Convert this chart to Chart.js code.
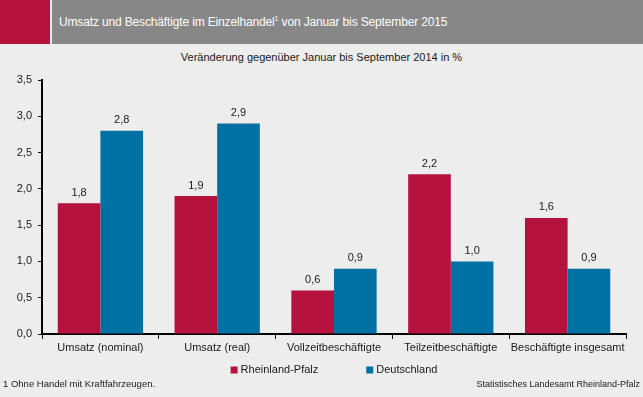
<!DOCTYPE html>
<html lang="de">
<head>
    <meta charset="UTF-8">
    <title>Umsatz und Beschäftigte im Einzelhandel</title>
    <style>
        body {
            margin: 0;
            width: 643px;
            height: 397px;
            overflow: hidden;
            position: relative;
            background-color: #ecedec;
            font-family: 'Liberation Sans', Arial, sans-serif;
            color: #1a1a1a;
        }
        .mark {
            position: absolute;
            left: 0;
            top: 0;
            width: 50px;
            height: 44px;
            background-color: #b5123e;
        }
        .header {
            position: absolute;
            left: 52px;
            top: 0;
            width: 591px;
            height: 44px;
            background-color: #878787;
            color: white;
            font-size: 12px;
            letter-spacing: -0.15px;
            line-height: 44px;
            padding-left: 7px;
            box-sizing: border-box;
        }
        .header sup { font-size: 7px; vertical-align: 5px; line-height: 0; }
        .subtitle {
            position: absolute;
            left: 0;
            width: 643px;
            top: 51px;
            text-align: center;
            font-size: 11px;
        }
        .chart-box {
            position: absolute;
            left: 0;
            top: 44px;
            width: 643px;
            height: 353px;
        }
        .foot {
            position: absolute;
            top: 378px;
            font-size: 9.5px;
        }
    </style>
    <script src="https://cdn.jsdelivr.net/npm/chart.js"></script>
</head>
<body>
    <div class="mark"></div>
    <div class="header">Umsatz und Beschäftigte im Einzelhandel<sup>1</sup> von Januar bis September 2015</div>
    <div class="subtitle">Veränderung gegenüber Januar bis September 2014 in %</div>
    <div class="chart-box"><canvas id="barChart" width="643" height="353"></canvas></div>
    <div class="foot" style="left:3px;">1 Ohne Handel mit Kraftfahrzeugen.</div>
    <div class="foot" style="right:3px; font-size:9px; top:379px;">Statistisches Landesamt Rheinland-Pfalz</div>
    <script>
        const categories = ['Umsatz (nominal)', 'Umsatz (real)', 'Vollzeitbeschäftigte', 'Teilzeitbeschäftigte', 'Beschäftigte insgesamt'];
        const rheinlandPfalz = [1.8, 1.9, 0.6, 2.2, 1.6];
        const deutschland = [2.8, 2.9, 0.9, 1.0, 0.9];
        const yTicks = [0, 0.5, 1, 1.5, 2, 2.5, 3, 3.5];

        const fontFamily = "'Liberation Sans', Arial, sans-serif";
        const fmt = v => v.toFixed(1).replace('.', ',');

        // value labels above each bar
        const valueLabels = {
            id: 'valueLabels',
            afterDatasetsDraw(chart) {
                const ctx = chart.ctx;
                ctx.save();
                ctx.font = '11px ' + fontFamily;
                ctx.fillStyle = '#1a1a1a';
                ctx.textAlign = 'center';
                ctx.textBaseline = 'bottom';
                chart.data.datasets.forEach((ds, i) => {
                    chart.getDatasetMeta(i).data.forEach((bar, j) => {
                        ctx.fillText(fmt(ds.data[j]), bar.x, bar.y - 5);
                    });
                });
                ctx.restore();
            }
        };

        // legend with wide spacing, drawn under the axis
        const wideLegend = {
            id: 'wideLegend',
            afterDraw(chart) {
                const ctx = chart.ctx;
                const area = chart.chartArea;
                const box = 7, gapText = 3, gapItem = 48;
                ctx.save();
                ctx.font = '11px ' + fontFamily;
                ctx.textBaseline = 'middle';
                const items = chart.data.datasets.map(ds => ({
                    label: ds.label,
                    color: ds.backgroundColor,
                    w: box + gapText + ctx.measureText(ds.label).width
                }));
                const total = items.reduce((s, it) => s + it.w, 0) + gapItem * (items.length - 1);
                let x = (area.left + area.right) / 2 - total / 2;
                const y = 326;
                items.forEach(it => {
                    ctx.fillStyle = it.color;
                    ctx.fillRect(x, y - box / 2, box, box);
                    ctx.fillStyle = '#1a1a1a';
                    ctx.fillText(it.label, x + box + gapText, y);
                    x += it.w + gapItem;
                });
                ctx.restore();
            }
        };

        new Chart(document.getElementById('barChart'), {
            type: 'bar',
            data: {
                labels: categories,
                datasets: [{
                    label: 'Rheinland-Pfalz',
                    data: rheinlandPfalz,
                    backgroundColor: '#b5123e'
                }, {
                    label: 'Deutschland',
                    data: deutschland,
                    backgroundColor: '#0071a4'
                }]
            },
            options: {
                responsive: false,
                animation: false,
                events: [],
                layout: { padding: { top: 36, left: 0, right: 17, bottom: 33 } },
                datasets: {
                    bar: { categoryPercentage: 0.73, barPercentage: 1.0 }
                },
                plugins: {
                    legend: { display: false },
                    tooltip: { enabled: false }
                },
                scales: {
                    x: {
                        grid: {
                            offset: true,
                            drawOnChartArea: false,
                            drawTicks: true,
                            tickLength: 5,
                            color: '#000'
                        },
                        border: { color: '#000', width: 2 },
                        ticks: {
                            color: '#1a1a1a',
                            padding: 2,
                            maxRotation: 0,
                            font: { family: fontFamily, size: 11 }
                        },
                        afterFit(scale) { scale.height = 30; }
                    },
                    y: {
                        min: 0,
                        max: 3.5,
                        grid: {
                            drawOnChartArea: false,
                            drawTicks: true,
                            tickLength: 4,
                            color: '#000'
                        },
                        border: { color: '#000', width: 2 },
                        afterBuildTicks(scale) {
                            scale.ticks = yTicks.map(v => ({ value: v }));
                        },
                        ticks: {
                            color: '#1a1a1a',
                            padding: 6,
                            font: { family: fontFamily, size: 11 },
                            callback: v => fmt(v)
                        },
                        afterFit(scale) { scale.width = 42; }
                    }
                }
            },
            plugins: [valueLabels, wideLegend]
        });
    </script>
</body>
</html>
